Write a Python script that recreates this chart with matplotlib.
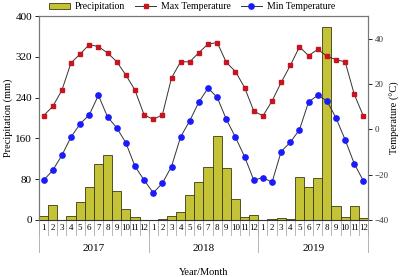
import numpy as np
import matplotlib
matplotlib.use("Agg")
import matplotlib.pyplot as plt
from matplotlib.transforms import blended_transform_factory

plt.rcParams["font.family"] = ["Liberation Serif", "DejaVu Serif"]

years = ["2017", "2018", "2019"]
months = [str(m) for m in range(1, 13)]

precip = [
    8, 29, 0, 8, 35, 64, 109, 127, 56, 22, 5, 0,
    0, 1, 8, 16, 49, 74, 103, 165, 101, 41, 5, 10,
    0, 1, 3, 1, 84, 65, 83, 379, 27, 5, 27, 3,
]
t_max = [
    6.0, 10.1, 17.2, 29.3, 33.2, 37.4, 36.5, 33.7, 29.9, 24.0, 17.3, 6.4,
    4.4, 6.4, 22.7, 29.8, 29.8, 33.9, 37.6, 38.3, 29.5, 25.5, 18.4, 8.1,
    5.9, 12.5, 20.7, 28.2, 36.4, 32.5, 35.3, 32.3, 30.7, 29.8, 15.4, 5.8,
]
t_min = [
    -22.5, -18.1, -11.5, -3.4, 2.4, 6.4, 15.0, 5.5, 0.7, -5.9, -16.3, -22.4,
    -28.0, -23.8, -16.4, -3.3, 3.8, 12.1, 18.2, 14.1, 4.4, -3.5, -12.1, -22.4,
    -21.3, -23.3, -9.8, -5.7, -0.2, 12.1, 15.0, 12.6, 5.0, -4.6, -15.2, -22.8,
]

n = len(precip)
x = np.arange(n) + 0.5

fig = plt.figure(figsize=(4.0, 2.77), dpi=100)
ax = fig.add_axes([0.0975, 0.2058, 0.8225, 0.7364])
ax2 = ax.twinx()

bars = ax.bar(x, precip, width=1.0, color="#c4c337", edgecolor="#3a3a10",
              linewidth=0.6, label="Precipitation", zorder=2)
ax.set_xlim(0, n)
ax.set_ylim(0, 400)
ax.set_yticks(np.arange(0, 401, 80))
ax.set_xticks([])
ax.set_ylabel("Precipitation (mm)", fontsize=7.5, labelpad=2)
ax.tick_params(axis="y", labelsize=8, length=3, width=0.6, direction="out", pad=2)

l1, = ax2.plot(x, t_max, color="#333333", linewidth=0.7, marker="s",
               markersize=3.0, markerfacecolor="#c8141e", markeredgecolor="#c8141e",
               label="Max Temperature")
l2, = ax2.plot(x, t_min, color="#333333", linewidth=0.7, marker="o",
               markersize=3.8, markerfacecolor="#1a1aff", markeredgecolor="#1a1aff",
               label="Min Temperature")
ax2.set_ylim(-40, 50)
ax2.set_yticks(np.arange(-40, 41, 20))
ax2.set_ylabel("Temperature (°C)", fontsize=7.5, labelpad=1)
ax2.tick_params(axis="y", labelsize=6.5, length=3, width=0.6, direction="out",
                pad=2, labelcolor="#333333")

for a in (ax, ax2):
    for s in a.spines.values():
        s.set_color("#777777")
        s.set_linewidth(0.8)
ax2.spines["bottom"].set_visible(False)
ax.spines["bottom"].set_visible(False)

# month / year axis labels
tr = blended_transform_factory(ax.transData, ax.transAxes)
for i in range(n + 1):
    ax.plot([i, i], [0, -0.073], transform=tr, color="#aaaaaa", linewidth=0.6,
            clip_on=False)
for i in range(n):
    ax.text(i + 0.5, -0.037, months[i % 12], transform=tr, ha="center",
            va="center", fontsize=6.5)
for k, yr in enumerate(years):
    ax.plot([12 * k, 12 * k], [0, -0.155], transform=tr, color="#aaaaaa",
            linewidth=0.6, clip_on=False)
    ax.text(12 * k + 6, -0.14, yr, transform=tr, ha="center", va="center",
            fontsize=8)
ax.plot([n, n], [0, -0.155], transform=tr, color="#aaaaaa", linewidth=0.6,
        clip_on=False)
ax.plot([0, n], [0, 0], transform=tr, color="#333333", linewidth=0.8,
        clip_on=False, zorder=3)
ax.text(0.5, -0.255, "Year/Month", transform=ax.transAxes, ha="center",
        va="center", fontsize=7.5)

fig.legend([bars, l1, l2], ["Precipitation", "Max Temperature", "Min Temperature"],
           loc="center", bbox_to_anchor=(0.48, 0.975), ncol=3, frameon=False,
           fontsize=7, handlelength=2.2, handletextpad=0.5, columnspacing=1.0,
           borderpad=0)

fig.savefig("out.png", dpi=100)
